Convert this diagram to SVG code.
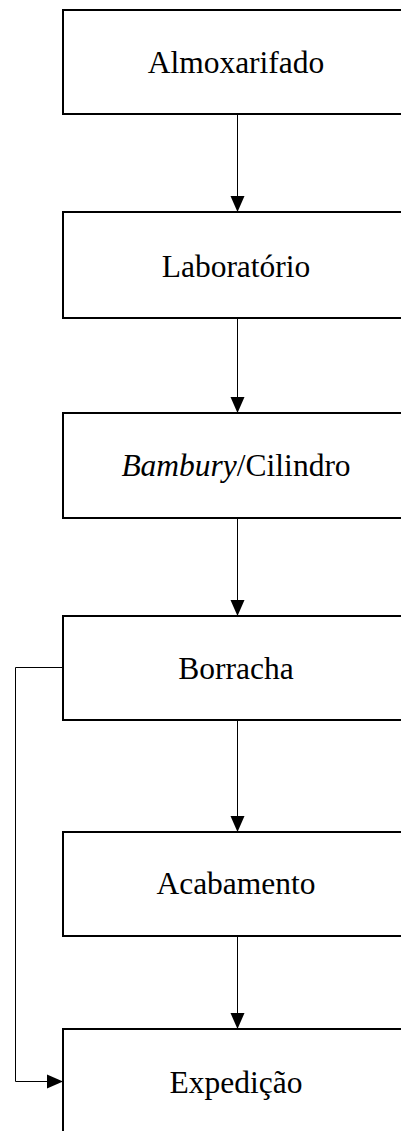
<svg xmlns="http://www.w3.org/2000/svg" width="401" height="1131" viewBox="0 0 401 1131">
<style>
.box{fill:#fff;stroke:#000;stroke-width:2}
.lbl{font-family:"Liberation Serif","Times New Roman",serif;font-size:31.5px;fill:#000;text-anchor:middle}
.con{fill:none;stroke:#000;stroke-width:1}
</style>
<defs>
<marker id="ah" markerUnits="userSpaceOnUse" markerWidth="16" markerHeight="16" viewBox="0 0 16 16" refX="16" refY="8" orient="auto">
<path d="M0,1 L16,8 L0,15 Z" fill="#000"/>
</marker>
</defs>
<rect width="401" height="1131" fill="#fff"/>
<g id="connectors">
<line class="con" x1="237.5" y1="114" x2="237.5" y2="212" marker-end="url(#ah)"/>
<line class="con" x1="237.5" y1="318" x2="237.5" y2="413" marker-end="url(#ah)"/>
<line class="con" x1="237.5" y1="518" x2="237.5" y2="616" marker-end="url(#ah)"/>
<line class="con" x1="237.5" y1="720" x2="237.5" y2="832" marker-end="url(#ah)"/>
<line class="con" x1="237.5" y1="936" x2="237.5" y2="1029" marker-end="url(#ah)"/>
<polyline class="con" points="63,667.5 15.5,667.5 15.5,1081.5 63,1081.5" marker-end="url(#ah)"/>
</g>
<g id="n1"><rect class="box" x="63" y="10" width="360" height="104"/><text class="lbl" x="236" y="73">Almoxarifado</text></g>
<g id="n2"><rect class="box" x="63" y="212" width="360" height="106"/><text class="lbl" x="236" y="277">Laboratório</text></g>
<g id="n3"><rect class="box" x="63" y="413" width="360" height="105"/><text class="lbl" x="236" y="476"><tspan font-style="italic">Bambury</tspan>/Cilindro</text></g>
<g id="n4"><rect class="box" x="63" y="616" width="360" height="104"/><text class="lbl" x="236" y="679">Borracha</text></g>
<g id="n5"><rect class="box" x="63" y="832" width="360" height="104"/><text class="lbl" x="236" y="894">Acabamento</text></g>
<g id="n6"><rect class="box" x="63" y="1029" width="360" height="140"/><text class="lbl" x="236" y="1093">Expedição</text></g>
</svg>
